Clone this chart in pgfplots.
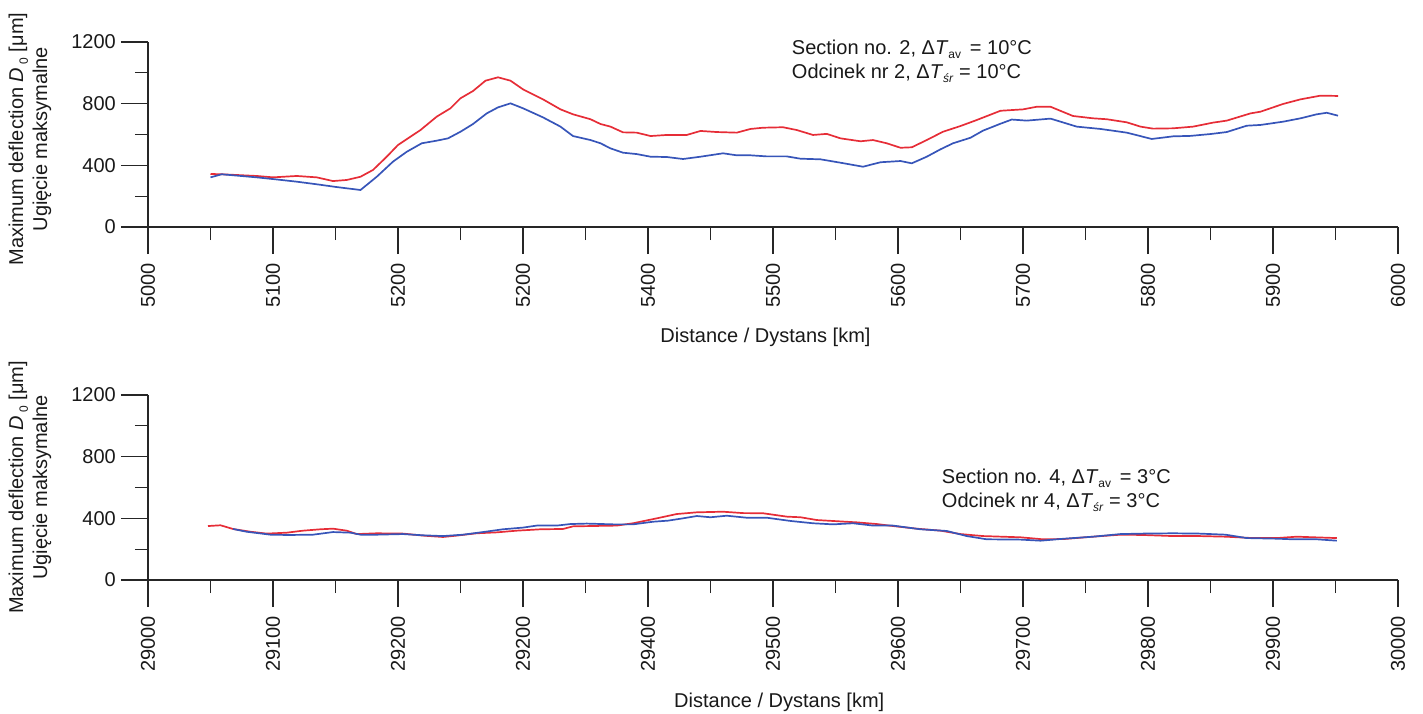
\documentclass[border=0pt]{standalone}
\usepackage{pgfplots}
\pgfplotsset{compat=1.18}
\usepackage{fontspec}
\setmainfont{Liberation Sans}
\definecolor{cred}{RGB}{230,45,55}
\definecolor{cblue}{RGB}{55,85,185}
\newcommand{\sub}[1]{\raisebox{-0.45ex}{\fontsize{12}{12}\selectfont #1}}

\pgfplotsset{
  myaxis/.style={
    scale only axis, width=1250pt, height=185pt,
    axis x line=bottom, axis y line=left,
    axis line style={-, line width=1.3pt, black!85},
    every tick/.style={line width=1.3pt, black!85},
    tick align=outside,
    major tick length=27pt, minor tick length=13pt,
    ymin=0, ymax=1200, ytick={0,400,800,1200}, minor y tick num=1,
    minor x tick num=1,
    scaled x ticks=false, scaled y ticks=false,
    clip=false,
    /pgf/number format/assume math mode=true,
    /pgf/number format/1000 sep={},
    tick label style={font=\fontsize{20}{24}\selectfont, black!90},
    xticklabel style={rotate=90, anchor=east, inner sep=9pt},
    yticklabel style={inner sep=5pt},
    ylabel={Maximum deflection \textit{D}\,\sub{0} [μm]\\Ugięcie maksymalne},
    xlabel={Distance / Dystans [km]},
  }
}

\begin{document}
\begin{tikzpicture}
\useasboundingbox (0pt,0pt) rectangle (1423pt,713pt);

% ---------- top axis ----------
\begin{axis}[myaxis, at={(148pt,486pt)}, anchor=south west,
  xmin=5000, xmax=6000, xtick={5000,5100,...,6000},
  xticklabels={5000,5100,5200,5200,5400,5500,5600,5700,5800,5900,6000},
  every axis y label/.style={at={(axis description cs:-0.0944,0.475)}, rotate=90, anchor=center, align=center, font=\fontsize{20}{24}\selectfont, black!90},
  every axis x label/.style={at={(axis description cs:0.494,-0.595)}, anchor=center, font=\fontsize{20}{24}\selectfont, black!90},
]
\addplot[cred, line width=1.7pt] coordinates {
(5050,344) (5059,342) (5087,331) (5100,322) (5119,331) (5135,322) (5148,298)
(5159,305) (5170,326) (5180,370) (5191,456) (5200,532) (5218,629) (5231,716)
(5242,770) (5250,835) (5260,882) (5270,949) (5280,971) (5290,949) (5300,893)
(5316,828) (5330,763) (5340,731) (5354,699) (5362,668) (5370,651) (5380,614)
(5391,612) (5402,590) (5415,597) (5431,597) (5442,623) (5455,616) (5471,612)
(5482,636) (5492,644) (5508,647) (5519,629) (5532,597) (5543,604) (5554,575)
(5570,556) (5580,564) (5591,543) (5602,514) (5611,517) (5623,564) (5636,618)
(5650,655) (5663,694) (5682,754) (5700,763) (5711,780) (5722,780) (5740,720)
(5756,705) (5767,699) (5783,679) (5794,651) (5804,638) (5820,640) (5836,651)
(5852,677) (5863,690) (5882,737) (5890,748) (5908,798) (5922,828) (5938,852)
(5952,850)
};
\addplot[cblue, line width=1.7pt] coordinates {
(5050,322) (5059,342) (5087,322) (5100,311) (5119,294) (5135,277) (5151,259)
(5170,240) (5183,326) (5196,424) (5207,488) (5219,543) (5231,560) (5240,575)
(5250,618) (5260,668) (5271,737) (5280,776) (5290,802) (5300,770) (5316,711)
(5330,651) (5340,590) (5354,564) (5362,543) (5370,510) (5380,482) (5391,473)
(5402,456) (5415,454) (5428,441) (5442,456) (5460,478) (5471,465) (5482,465)
(5495,458) (5511,458) (5522,443) (5538,439) (5554,417) (5572,391) (5586,420)
(5602,428) (5611,413) (5623,456) (5634,504) (5644,543) (5658,579) (5668,625)
(5682,670) (5691,697) (5703,690) (5722,703) (5743,651) (5762,636) (5783,612)
(5803,571) (5820,588) (5834,591) (5850,603) (5863,616) (5879,657) (5890,662)
(5908,683) (5922,705) (5935,731) (5943,741) (5952,722)
};
\node[anchor=north west, align=left, inner sep=0pt, font=\fontsize{20}{24}\selectfont, black!90]
  at (axis cs:5515,1216)
  {Section no. 2, Δ\textit{T}\sub{av}\, = 10°C\\
   Odcinek nr 2, Δ\textit{T}\sub{\textit{śr}} = 10°C};
\end{axis}

% ---------- bottom axis ----------
\begin{axis}[myaxis, at={(148pt,133pt)}, anchor=south west,
  xmin=29000, xmax=30000, xtick={29000,29100,...,30000},
  xticklabels={29000,29100,29200,29200,29400,29500,29600,29700,29800,29900,30000},
  every axis y label/.style={at={(axis description cs:-0.0944,0.5)}, rotate=90, anchor=center, align=center, font=\fontsize{20}{24}\selectfont, black!90},
  every axis x label/.style={at={(axis description cs:0.505,-0.66)}, anchor=center, font=\fontsize{20}{24}\selectfont, black!90},
]
\addplot[cred, line width=1.7pt] coordinates {
(29048,350) (29058,355) (29068,331) (29082,313) (29095,301) (29111,307)
(29124,320) (29138,329) (29148,333) (29159,320) (29167,298) (29183,303)
(29204,301) (29220,288) (29236,279) (29247,288) (29263,303) (29279,309)
(29295,320) (29314,329) (29332,331) (29340,348) (29354,350) (29375,353)
(29388,368) (29407,400) (29423,428) (29439,439) (29460,443) (29476,434)
(29492,433) (29511,411) (29522,407) (29535,389) (29554,380) (29567,374)
(29583,363) (29596,350) (29615,333) (29634,320) (29650,298) (29668,285)
(29698,277) (29716,264) (29733,266) (29756,281) (29778,294) (29796,292)
(29820,285) (29841,285) (29862,281) (29884,272) (29903,272) (29919,281)
(29951,272)
};
\addplot[cblue, line width=1.7pt] coordinates {
(29068,331) (29079,313) (29098,294) (29112,292) (29132,294) (29148,311)
(29162,307) (29170,294) (29183,294) (29204,298) (29220,290) (29236,285)
(29252,294) (29268,311) (29284,329) (29300,340) (29311,353) (29327,353)
(29338,363) (29351,366) (29372,361) (29388,361) (29404,378) (29416,385)
(29428,400) (29439,415) (29450,407) (29463,417) (29479,404) (29495,404)
(29514,383) (29532,368) (29548,361) (29564,368) (29580,353) (29596,353)
(29618,329) (29639,318) (29655,285) (29671,264) (29698,262) (29714,255)
(29733,268) (29756,281) (29778,298) (29796,301) (29820,303) (29841,301)
(29862,294) (29879,272) (29903,268) (29916,264) (29935,264) (29951,255)
};
\node[anchor=north west, align=left, inner sep=0pt, font=\fontsize{20}{24}\selectfont, black!90]
  at (axis cs:29635,723)
  {Section no. 4, Δ\textit{T}\sub{av}\, = 3°C\\
   Odcinek nr 4, Δ\textit{T}\sub{\textit{śr}} = 3°C};
\end{axis}
\end{tikzpicture}
\end{document}
